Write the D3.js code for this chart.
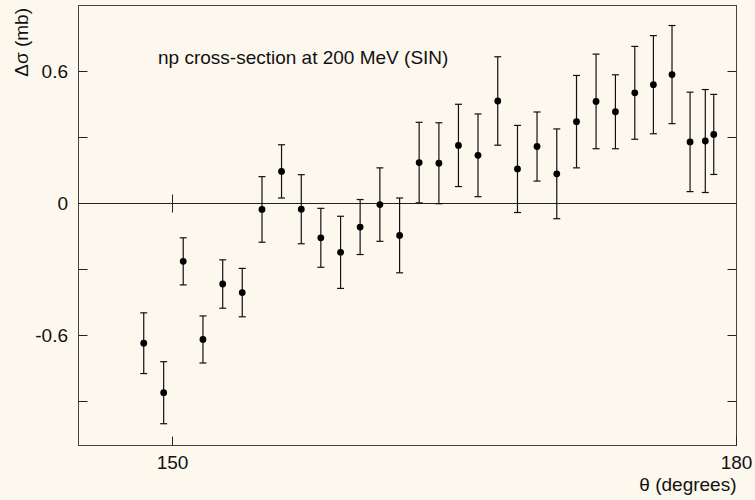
<!DOCTYPE html>
<html>
<head>
<meta charset="utf-8">
<script src="https://cdn.jsdelivr.net/npm/d3@7"></script>
<style>
  html, body { margin: 0; padding: 0; background: #fdf8ee; }
  svg { display: block; font-family: "Liberation Sans", Arial, sans-serif; }
</style>
</head>
<body>
<div id="chart"></div>
<script>
// np cross-section difference vs angle (SIN, 200 MeV)
const angles = [148.47, 149.53, 150.57, 151.62, 152.67, 153.71, 154.76, 155.80, 156.85, 157.89,
                158.94, 159.98, 161.03, 162.08, 163.12, 164.17, 165.21, 166.25, 167.30, 168.35,
                169.39, 170.44, 171.49, 172.53, 173.56, 174.59, 175.58, 176.57, 177.53, 178.34, 178.79];
const deltaSigma = [-0.635, -0.860, -0.263, -0.618, -0.366, -0.405, -0.027, 0.146, -0.026, -0.156,
                    -0.222, -0.107, -0.005, -0.145, 0.186, 0.183, 0.264, 0.219, 0.466, 0.157,
                    0.259, 0.135, 0.372, 0.464, 0.417, 0.503, 0.540, 0.586, 0.280, 0.284, 0.314];
const errors = [0.138, 0.141, 0.107, 0.107, 0.110, 0.110, 0.149, 0.121, 0.157, 0.134,
                0.164, 0.125, 0.167, 0.170, 0.183, 0.184, 0.187, 0.188, 0.201, 0.198,
                0.157, 0.204, 0.210, 0.215, 0.168, 0.211, 0.223, 0.223, 0.226, 0.234, 0.182];

const xTicks = [150, 180];
const yTicks = [-0.9, -0.6, -0.3, 0, 0.3, 0.6];
const yLabelTicks = [-0.6, 0, 0.6];
const yLabels = ['-0.6', '0', '0.6'];

const title = 'np cross-section at 200 MeV (SIN)';

const width = 755, height = 500;
const plot = { left: 78.5, right: 736.5, top: 5.5, bottom: 445.5 };

const x = d3.scaleLinear().domain([145, 180]).range([plot.left, plot.right]);
const y = d3.scaleLinear().domain([-1.1, 0.9]).range([plot.bottom, plot.top]);

const svg = d3.select('#chart').append('svg')
  .attr('width', width)
  .attr('height', height);

svg.append('rect')
  .attr('width', width).attr('height', height)
  .attr('fill', '#fdf8ee');

const fs = 19;

// Frame
svg.append('rect')
  .attr('x', plot.left).attr('y', plot.top)
  .attr('width', plot.right - plot.left).attr('height', plot.bottom - plot.top)
  .attr('fill', 'none')
  .attr('stroke', '#444')
  .attr('stroke-width', 1);

// Zero line
svg.append('line')
  .attr('x1', plot.left).attr('x2', plot.right)
  .attr('y1', y(0)).attr('y2', y(0))
  .attr('stroke', '#222');

// Y ticks, inward on both sides
const tickLen = 9;
svg.append('g').selectAll('line')
  .data(yTicks)
  .join('line')
  .attr('x1', plot.left).attr('x2', plot.left + tickLen)
  .attr('y1', d => y(d)).attr('y2', d => y(d))
  .attr('stroke', '#222');

svg.append('g').selectAll('line')
  .data(yTicks)
  .join('line')
  .attr('x1', plot.right).attr('x2', plot.right - tickLen)
  .attr('y1', d => y(d)).attr('y2', d => y(d))
  .attr('stroke', '#222');

svg.append('g').selectAll('text')
  .data(yLabelTicks)
  .join('text')
  .attr('x', 68)
  .attr('y', d => y(d))
  .attr('dy', '0.36em')
  .attr('text-anchor', 'end')
  .attr('font-size', fs)
  .attr('fill', '#111')
  .text((d, i) => yLabels[i]);

// X ticks: bottom (inward) and across the zero line
svg.append('g').selectAll('line')
  .data(xTicks)
  .join('line')
  .attr('x1', d => x(d)).attr('x2', d => x(d))
  .attr('y1', plot.bottom).attr('y2', plot.bottom - tickLen)
  .attr('stroke', '#222');

svg.append('g').selectAll('line')
  .data(xTicks.filter(d => d < 180))
  .join('line')
  .attr('x1', d => x(d)).attr('x2', d => x(d))
  .attr('y1', y(0) - tickLen).attr('y2', y(0) + tickLen)
  .attr('stroke', '#222');

svg.append('g').selectAll('text')
  .data(xTicks)
  .join('text')
  .attr('x', d => x(d))
  .attr('y', 469)
  .attr('text-anchor', 'middle')
  .attr('font-size', fs)
  .attr('fill', '#111')
  .text(d => d);

// Axis titles
svg.append('text')
  .attr('x', plot.right).attr('y', 491)
  .attr('text-anchor', 'end')
  .attr('font-size', fs)
  .attr('fill', '#111')
  .text('θ (degrees)');

svg.append('text')
  .attr('transform', 'translate(28,8) rotate(-90)')
  .attr('text-anchor', 'end')
  .attr('font-size', fs)
  .attr('fill', '#111')
  .text('Δσ (mb)');

// Annotation
svg.append('text')
  .attr('x', 158).attr('y', 64)
  .attr('font-size', fs)
  .attr('fill', '#111')
  .text(title);

// Data points with error bars
const pts = angles.map((a, i) => ({ a, v: deltaSigma[i], e: errors[i] }));
const cap = 3.5;

const bars = svg.append('g')
  .attr('stroke', '#111')
  .attr('stroke-width', 1.2);

bars.selectAll('line.bar')
  .data(pts)
  .join('line')
  .attr('class', 'bar')
  .attr('x1', d => x(d.a)).attr('x2', d => x(d.a))
  .attr('y1', d => y(d.v + d.e)).attr('y2', d => y(d.v - d.e));

bars.selectAll('line.capTop')
  .data(pts)
  .join('line')
  .attr('class', 'capTop')
  .attr('x1', d => x(d.a) - cap).attr('x2', d => x(d.a) + cap)
  .attr('y1', d => y(d.v + d.e)).attr('y2', d => y(d.v + d.e));

bars.selectAll('line.capBot')
  .data(pts)
  .join('line')
  .attr('class', 'capBot')
  .attr('x1', d => x(d.a) - cap).attr('x2', d => x(d.a) + cap)
  .attr('y1', d => y(d.v - d.e)).attr('y2', d => y(d.v - d.e));

svg.append('g').selectAll('circle')
  .data(pts)
  .join('circle')
  .attr('cx', d => x(d.a))
  .attr('cy', d => y(d.v))
  .attr('r', 3.4)
  .attr('fill', '#000');
</script>
</body>
</html>
